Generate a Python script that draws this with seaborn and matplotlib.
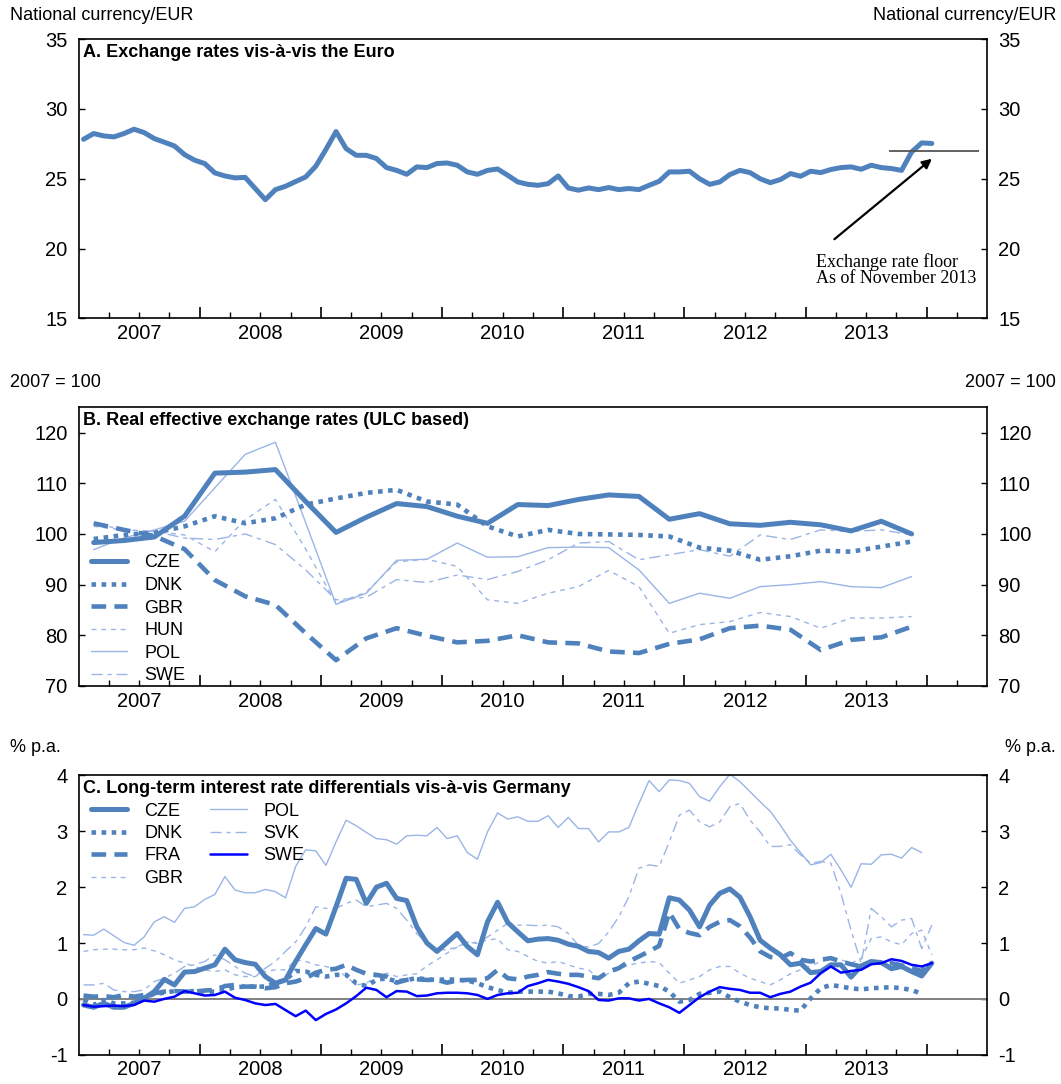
import numpy as np
import pandas as pd
import seaborn as sns
import matplotlib
matplotlib.use("Agg")
import matplotlib.pyplot as plt

# ---------------- data ----------------
# A. CZK per EUR, monthly Jan 2007 - Jan 2014
czk_eur = [27.83, 28.24, 28.07, 28.0, 28.24, 28.55, 28.31, 27.88, 27.62, 27.35, 26.73, 26.33,
           26.09, 25.42, 25.2, 25.06, 25.1, 24.3, 23.5, 24.22, 24.46, 24.8, 25.13, 25.9,
           27.1, 28.38, 27.16, 26.68, 26.68, 26.45, 25.8, 25.6, 25.32, 25.85, 25.8, 26.09,
           26.13, 25.97, 25.49, 25.32, 25.6, 25.7, 25.25, 24.77, 24.6, 24.53, 24.65, 25.2,
           24.34, 24.18, 24.34, 24.22, 24.37, 24.22, 24.3, 24.22, 24.53, 24.82, 25.49, 25.49,
           25.54, 25.0, 24.6, 24.77, 25.3, 25.6, 25.44, 25.0, 24.72, 24.94, 25.37, 25.18,
           25.54, 25.44, 25.66, 25.8, 25.85, 25.68, 25.97, 25.8, 25.73, 25.6, 26.92, 27.57, 27.53]
floor_rate = 27.0

# B. REER (ULC based), quarterly 2007Q1 - 2013Q4, 2007 = 100
reer_cze = [98.3, 98.7, 99.4, 103.5, 112.0, 112.2, 112.7, 106.4, 100.3, 103.3, 106.0, 105.4, 103.5, 102.1,
            105.8, 105.6, 106.8, 107.7, 107.4, 102.9, 104.0, 102.0, 101.7, 102.3, 101.8, 100.6, 102.5, 100.0]
reer_dnk = [99.0, 99.8, 100.2, 101.5, 103.5, 102.1, 103.1, 105.8, 107.0, 108.1, 108.7, 106.4, 105.8, 101.5,
            99.5, 100.8, 100.0, 99.9, 99.8, 99.5, 97.3, 96.7, 94.9, 95.6, 96.7, 96.5, 97.5, 98.5]
reer_gbr = [102.1, 100.8, 99.6, 97.0, 90.9, 87.7, 86.0, 80.4, 75.1, 79.4, 81.4, 79.9, 78.6, 78.9,
            80.0, 78.6, 78.4, 76.8, 76.5, 78.3, 79.2, 81.4, 81.9, 81.1, 77.1, 79.1, 79.6, 81.7]
reer_hun = [101.5, 100.8, 100.5, 99.8, 96.5, 102.8, 106.8, 97.0, 86.3, 88.5, 94.5, 95.0, 93.6, 87.0,
            86.3, 88.3, 89.6, 92.8, 89.6, 80.4, 82.1, 82.7, 84.5, 83.7, 81.4, 83.4, 83.4, 83.7]
reer_pol = [96.9, 99.2, 100.8, 102.5, 109.1, 115.7, 118.1, 102.2, 86.1, 88.3, 94.8, 95.0, 98.2, 95.4,
            95.5, 97.3, 97.4, 97.3, 92.9, 86.3, 88.3, 87.3, 89.6, 90.0, 90.6, 89.6, 89.4, 91.6]
reer_swe = [102.1, 100.8, 100.5, 99.2, 98.9, 100.0, 97.9, 92.9, 87.0, 87.5, 91.0, 90.4, 91.9, 91.0,
            92.6, 94.9, 98.2, 98.5, 94.9, 95.9, 96.9, 95.6, 99.8, 98.9, 100.8, 100.5, 100.8, 99.8]

# C. long-term interest rate differential vs Germany, monthly from Jan 2007 (% p.a.)
ir_cze = [-0.11, -0.15, -0.08, -0.15, -0.15, -0.08, 0.01, 0.13, 0.35, 0.25, 0.48, 0.49,
          0.55, 0.61, 0.89, 0.70, 0.65, 0.62, 0.40, 0.28, 0.34, 0.67, 0.97, 1.26,
          1.16, 1.65, 2.16, 2.14, 1.71, 2.0, 2.07, 1.80, 1.76, 1.29, 1.0, 0.85,
          1.01, 1.17, 0.94, 0.79, 1.38, 1.73, 1.37, 1.20, 1.04, 1.07, 1.08, 1.05,
          0.98, 0.94, 0.85, 0.83, 0.73, 0.85, 0.89, 1.04, 1.17, 1.16, 1.81, 1.77,
          1.59, 1.29, 1.68, 1.89, 1.97, 1.82, 1.47, 1.05, 0.91, 0.79, 0.61, 0.64,
          0.47, 0.49, 0.61, 0.61, 0.39, 0.59, 0.67, 0.65, 0.54, 0.58, 0.49, 0.41, 0.64]
ir_dnk = [-0.02, -0.11, -0.02, -0.08, -0.08, -0.07, 0.02, 0.09, 0.11, 0.14, 0.13, 0.14,
          0.13, 0.13, 0.16, 0.21, 0.22, 0.22, 0.22, 0.28, 0.34, 0.50, 0.49, 0.43,
          0.40, 0.43, 0.43, 0.28, 0.23, 0.34, 0.37, 0.31, 0.34, 0.37, 0.35, 0.34,
          0.35, 0.34, 0.33, 0.28, 0.21, 0.16, 0.11, 0.13, 0.13, 0.13, 0.13, 0.10,
          0.05, 0.04, 0.09, 0.09, 0.07, 0.11, 0.28, 0.31, 0.27, 0.23, 0.13, -0.05,
          -0.02, 0.09, 0.11, 0.13, 0.03, -0.05, -0.11, -0.15, -0.17, -0.17, -0.20, -0.21,
          0.01, 0.19, 0.25, 0.22, 0.19, 0.17, 0.19, 0.20, 0.21, 0.19, 0.16, 0.09]
ir_fra = [0.06, 0.04, 0.05, 0.03, 0.07, 0.04, 0.07, 0.10, 0.13, 0.14, 0.13, 0.13,
          0.15, 0.16, 0.23, 0.25, 0.22, 0.22, 0.19, 0.21, 0.28, 0.31, 0.37, 0.47,
          0.52, 0.54, 0.61, 0.52, 0.45, 0.43, 0.40, 0.29, 0.34, 0.35, 0.34, 0.34,
          0.29, 0.33, 0.34, 0.34, 0.37, 0.52, 0.37, 0.35, 0.40, 0.43, 0.48, 0.45,
          0.43, 0.43, 0.40, 0.37, 0.49, 0.55, 0.67, 0.76, 0.85, 0.95, 1.55, 1.25,
          1.18, 1.14, 1.29, 1.38, 1.41, 1.30, 1.10, 0.85, 0.75, 0.73, 0.82, 0.70,
          0.67, 0.70, 0.73, 0.67, 0.62, 0.58, 0.65, 0.65, 0.64, 0.60, 0.55, 0.50, 0.65]
ir_gbr = [0.85, 0.88, 0.89, 0.89, 0.88, 0.88, 0.91, 0.86, 0.79, 0.70, 0.64, 0.58,
          0.52, 0.49, 0.52, 0.43, 0.40, 0.40, 0.49, 0.52, 0.52, 0.70, 0.67, 0.61,
          0.58, 0.53, 0.40, 0.25, 0.28, 0.40, 0.46, 0.40, 0.43, 0.45, 0.59, 0.70,
          0.82, 0.93, 0.99, 1.02, 1.05, 1.08, 0.88, 0.85, 0.76, 0.67, 0.64, 0.67,
          0.61, 0.55, 0.52, 0.37, 0.46, 0.52, 0.61, 0.64, 0.67, 0.65, 0.46, 0.28,
          0.34, 0.40, 0.52, 0.58, 0.58, 0.46, 0.37, 0.31, 0.25, 0.34, 0.45, 0.52,
          0.59, 0.67, 0.72, 0.70, 0.64, 0.72, 1.08, 1.11, 1.02, 0.97, 1.17, 1.23, 0.79]
ir_pol = [1.15, 1.14, 1.25, 1.13, 1.01, 0.96, 1.11, 1.38, 1.47, 1.37, 1.62, 1.65,
          1.78, 1.87, 2.19, 1.95, 1.90, 1.90, 1.96, 1.92, 1.81, 2.37, 2.67, 2.65,
          2.39, 2.81, 3.20, 3.10, 2.98, 2.87, 2.85, 2.77, 2.92, 2.93, 2.92, 3.07,
          2.87, 2.92, 2.62, 2.50, 2.99, 3.33, 3.22, 3.26, 3.18, 3.18, 3.28, 3.07,
          3.25, 3.05, 3.05, 2.81, 2.99, 2.99, 3.07, 3.50, 3.91, 3.71, 3.92, 3.91,
          3.86, 3.62, 3.54, 3.80, 4.02, 3.89, 3.71, 3.53, 3.36, 3.11, 2.84, 2.62,
          2.40, 2.44, 2.59, 2.31, 2.00, 2.42, 2.41, 2.58, 2.59, 2.52, 2.71, 2.62]
ir_svk = [0.25, 0.25, 0.28, 0.16, 0.13, 0.13, 0.16, 0.31, 0.37, 0.46, 0.58, 0.61,
          0.67, 0.79, 0.70, 0.58, 0.46, 0.40, 0.55, 0.67, 0.85, 1.02, 1.29, 1.65,
          1.62, 1.62, 1.71, 1.77, 1.65, 1.68, 1.71, 1.62, 1.41, 1.17, 1.0, 0.88,
          0.88, 0.93, 1.02, 0.99, 1.11, 1.23, 1.35, 1.32, 1.32, 1.31, 1.32, 1.29,
          1.17, 0.96, 0.93, 0.99, 1.20, 1.47, 1.83, 2.34, 2.40, 2.37, 2.81, 3.29,
          3.38, 3.17, 3.08, 3.17, 3.44, 3.50, 3.20, 2.99, 2.73, 2.73, 2.76, 2.58,
          2.43, 2.46, 2.43, 1.89, 1.23, 0.64, 1.62, 1.47, 1.29, 1.41, 1.44, 0.90, 1.32]
ir_swe = [-0.11, -0.14, -0.13, -0.12, -0.13, -0.11, -0.03, -0.05, 0.0, 0.04, 0.14, 0.10,
          0.06, 0.07, 0.13, 0.02, -0.02, -0.08, -0.11, -0.09, -0.20, -0.31, -0.21, -0.38,
          -0.27, -0.19, -0.08, 0.05, 0.20, 0.16, 0.03, 0.14, 0.13, 0.05, 0.06, 0.10,
          0.11, 0.11, 0.10, 0.07, 0.0, 0.07, 0.10, 0.11, 0.23, 0.28, 0.34, 0.31,
          0.27, 0.21, 0.14, -0.02, -0.03, 0.01, 0.01, -0.03, 0.0, -0.08, -0.15, -0.25,
          -0.11, 0.03, 0.13, 0.21, 0.18, 0.16, 0.11, 0.11, 0.03, 0.09, 0.13, 0.22,
          0.29, 0.46, 0.58, 0.47, 0.50, 0.52, 0.62, 0.64, 0.71, 0.68, 0.61, 0.58, 0.64]

years = list(range(2007, 2014))

# ---------------- style ----------------
sns.set_theme(style="white")
plt.rcParams["font.family"] = ["Liberation Sans", "DejaVu Sans"]
plt.rcParams["axes.unicode_minus"] = False
for key in ["text.color", "axes.labelcolor", "xtick.color", "ytick.color"]:
    plt.rcParams[key] = "black"

MAIN = "#4F81BD"
LIGHT = "#9AB5E6"
BLUE = "#0000FF"

SOLID = "-"
DOT = (0, (1, 1.2))
DASH = (0, (3.2, 1.8))
SHORT = (0, (3.5, 3.5))
DASHDOT = (0, (8, 3.5, 3, 3.5))


def month_x(n):
    return 2007 + (np.arange(n) + 0.5) / 12


def quarter_x(n):
    return 2007 + (np.arange(n) + 0.5) / 4


def draw(ax, xs, ys, label, color, lw, ls):
    sns.lineplot(x=xs, y=ys, ax=ax, color=color, linewidth=lw, linestyle=ls,
                 label=label, errorbar=None, legend=False)


def style_axis(ax, ylim, yticks, title):
    ax.set_xlim(2007, 2014.5)
    ax.set_ylim(*ylim)
    ax.set_yticks(yticks)
    ax.set_xticks(np.arange(2008, 2015), [""] * 7)
    minor = [q for q in np.arange(2007.25, 2014.5, 0.25) if q % 1 != 0]
    labels = [str(int(q)) if (q % 1 == 0.5 and int(q) in years) else "" for q in minor]
    ax.set_xticks(minor, labels, minor=True)
    ax.tick_params(axis="x", which="major", direction="in", length=8, width=1.2,
                   bottom=True, top=False)
    ax.tick_params(axis="x", which="minor", direction="in", length=4.5, width=1.0,
                   bottom=True, top=False, labelsize=14.5, pad=4)
    ax.tick_params(axis="y", direction="in", length=4, width=1.0, left=True, right=True,
                   labelleft=True, labelright=True, labelsize=14.5, pad=8)
    for sp in ax.spines.values():
        sp.set_color("black")
        sp.set_linewidth(1.2)
    ax.set_xlabel("")
    ax.set_ylabel("")
    ax.text(0.005, 0.952, title, transform=ax.transAxes, fontsize=13,
            fontweight="bold", va="center", ha="left")


fig = plt.figure(figsize=(10.61, 10.84), dpi=100)
axA = fig.add_axes([0.074, 0.7064, 0.8566, 0.2574])
axB = fig.add_axes([0.074, 0.3672, 0.8566, 0.2571])
axC = fig.add_axes([0.074, 0.0270, 0.8566, 0.2576])

# ---------------- panel A ----------------
draw(axA, month_x(len(czk_eur)), czk_eur, "CZE", MAIN, 3.6, SOLID)
axA.hlines(floor_rate, 2013.69, 2014.43, color="#555555", linewidth=1.3)
axA.annotate("", xy=(2014.06, 26.56), xytext=(2013.22, 20.54),
             arrowprops=dict(arrowstyle="-|>", color="black", lw=1.6, mutation_scale=14))
axA.text(2013.087, 18.46, "Exchange rate floor\nAs of November 2013",
         family=["Liberation Serif", "DejaVu Serif"], fontsize=13, va="center",
         ha="left", linespacing=0.95)
style_axis(axA, (15, 35), [15, 20, 25, 30, 35], "A. Exchange rates vis-à-vis the Euro")

# ---------------- panel B ----------------
qx = quarter_x(len(reer_cze))
draw(axB, qx, reer_hun, "HUN", LIGHT, 1.0, SHORT)
draw(axB, qx, reer_pol, "POL", LIGHT, 1.0, SOLID)
draw(axB, qx, reer_swe, "SWE", LIGHT, 1.0, DASHDOT)
draw(axB, qx, reer_gbr, "GBR", MAIN, 3.3, DASH)
draw(axB, qx, reer_dnk, "DNK", MAIN, 3.3, DOT)
draw(axB, qx, reer_cze, "CZE", MAIN, 3.6, SOLID)
style_axis(axB, (70, 125), [70, 80, 90, 100, 110, 120],
           "B. Real effective exchange rates (ULC based)")
h, l = axB.get_legend_handles_labels()
order = ["CZE", "DNK", "GBR", "HUN", "POL", "SWE"]
hb = [h[l.index(k)] for k in order]
axB.legend(hb, order, loc="upper left", bbox_to_anchor=(0.0138, 0.472), frameon=False,
           fontsize=13, handlelength=2.0, handletextpad=0.95, labelspacing=0.31,
           borderpad=0, borderaxespad=0)

# ---------------- panel C ----------------
axC.axhline(0, color="#808080", linewidth=1.4, zorder=1)
draw(axC, month_x(len(ir_pol)), ir_pol, "POL", LIGHT, 1.0, SOLID)
draw(axC, month_x(len(ir_svk)), ir_svk, "SVK", LIGHT, 1.0, DASHDOT)
draw(axC, month_x(len(ir_gbr)), ir_gbr, "GBR", LIGHT, 1.0, SHORT)
draw(axC, month_x(len(ir_fra)), ir_fra, "FRA", MAIN, 3.3, DASH)
draw(axC, month_x(len(ir_dnk)), ir_dnk, "DNK", MAIN, 3.3, DOT)
draw(axC, month_x(len(ir_cze)), ir_cze, "CZE", MAIN, 3.6, SOLID)
draw(axC, month_x(len(ir_swe)), ir_swe, "SWE", BLUE, 1.8, SOLID)
style_axis(axC, (-1, 4), [-1, 0, 1, 2, 3, 4],
           "C. Long-term interest rate differentials vis-à-vis Germany")
h, l = axC.get_legend_handles_labels()
order = ["CZE", "DNK", "FRA", "GBR", "POL", "SVK", "SWE"]
hc = [h[l.index(k)] for k in order]
axC.legend(hc, order, loc="upper left", bbox_to_anchor=(0.0138, 0.903), frameon=False,
           fontsize=13, ncol=2, handlelength=2.0, handletextpad=0.95, labelspacing=0.3,
           columnspacing=1.5, borderpad=0, borderaxespad=0)

# ---------------- unit labels ----------------
units = [(15, "National currency/EUR"), (383, "2007 = 100"), (748, "% p.a.")]
for ypix, txt in units:
    fig.text(10 / 1061, 1 - ypix / 1084, txt, fontsize=13, va="center", ha="left")
    fig.text(1056 / 1061, 1 - ypix / 1084, txt, fontsize=13, va="center", ha="right")

fig.savefig("out.png", dpi=100)
